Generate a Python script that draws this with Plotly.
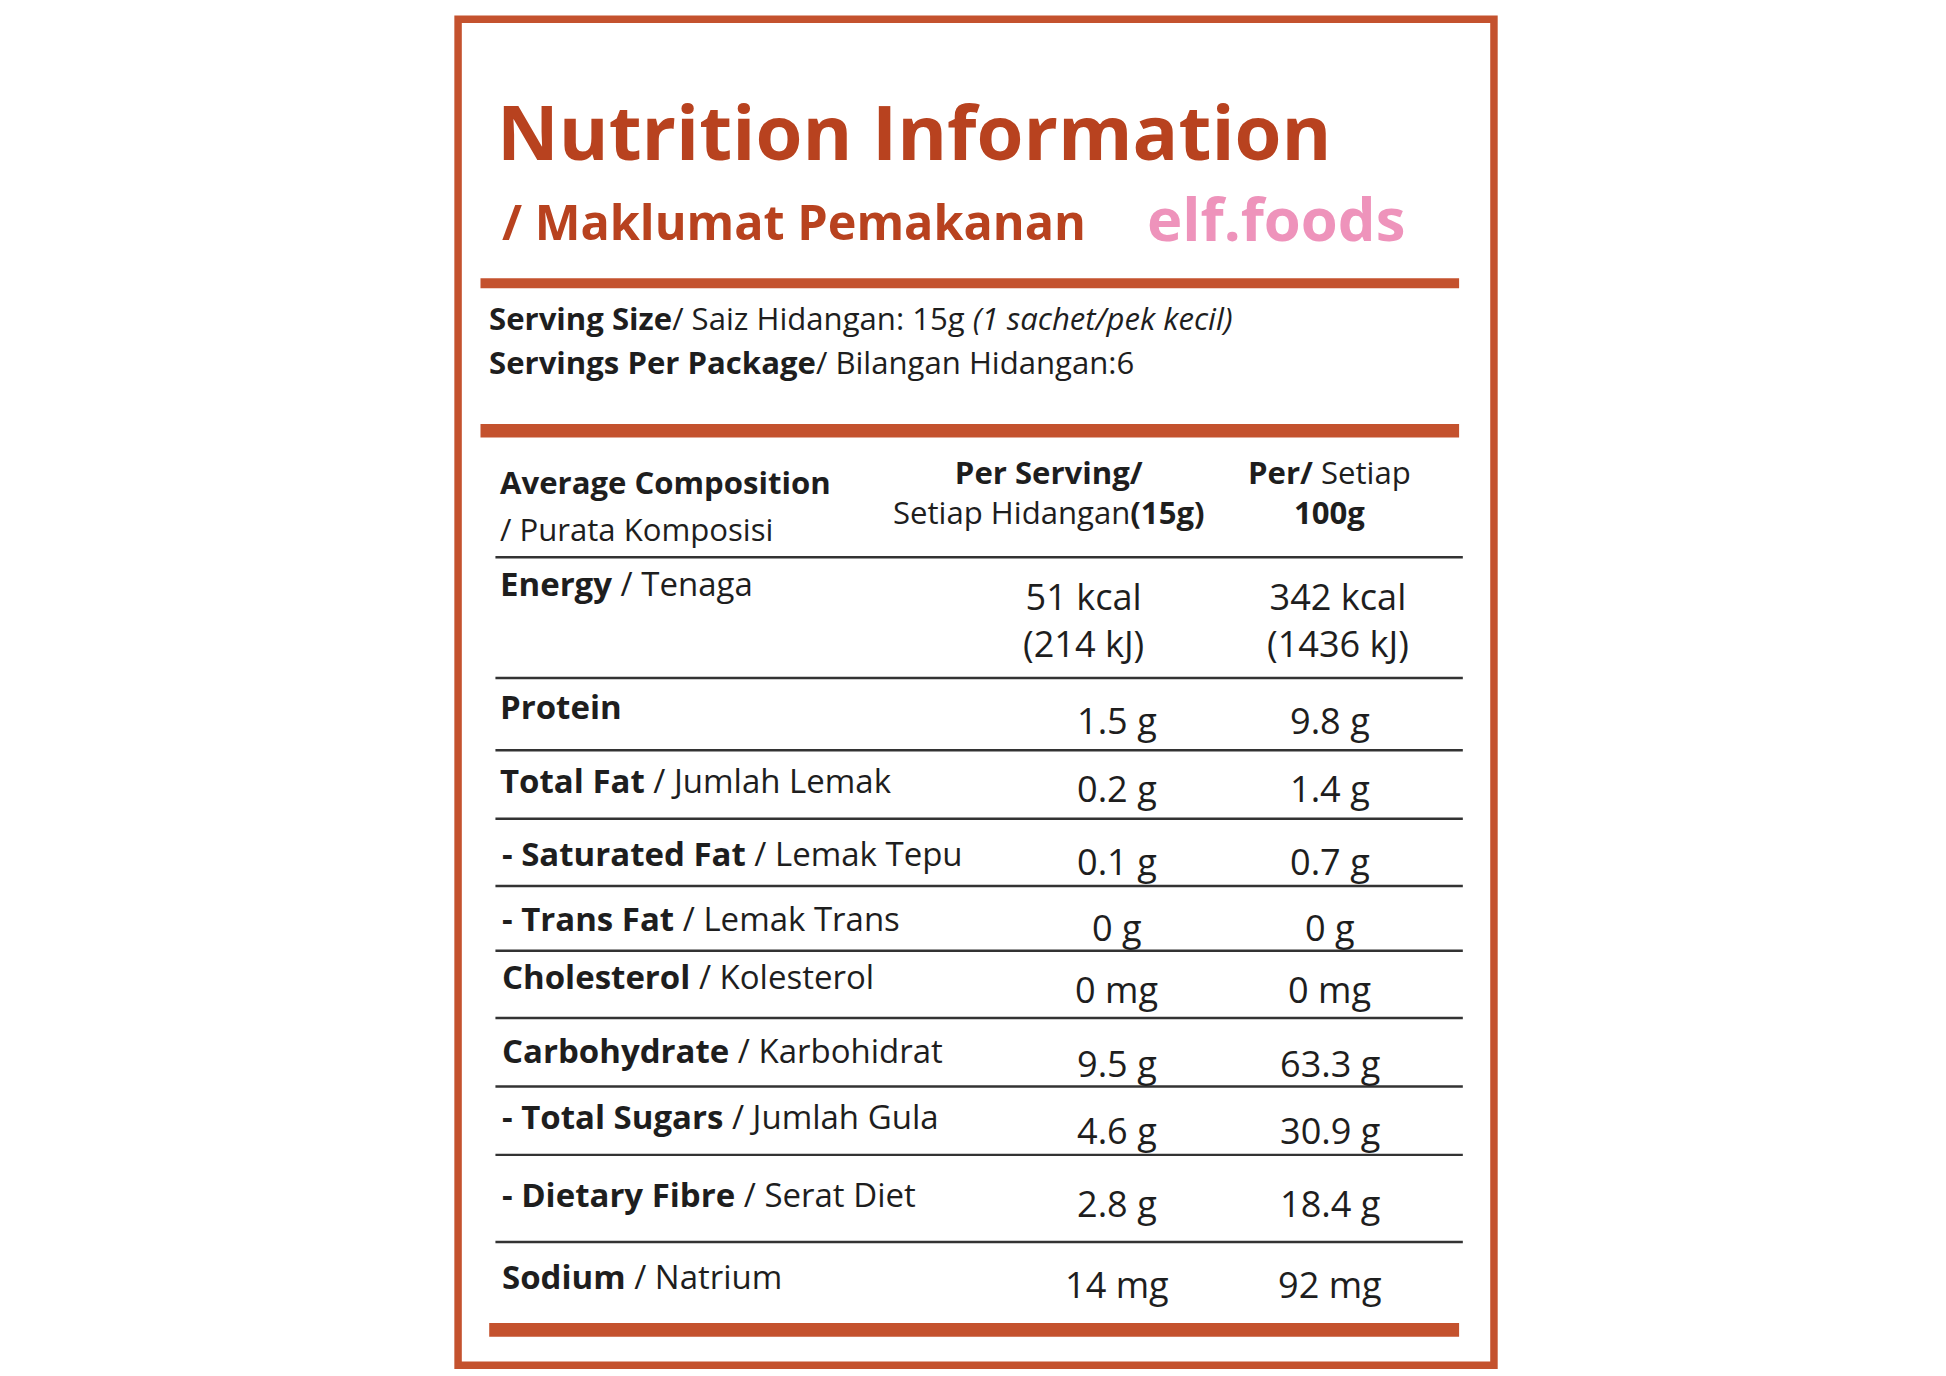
import plotly.graph_objects as go

# label parts (bold, normal) and values per serving / per 100g
bold_parts = ["Energy", "Protein", "Total Fat", "- Saturated Fat", "- Trans Fat",
              "Cholesterol", "Carbohydrate", "- Total Sugars", "- Dietary Fibre", "Sodium"]
normal_parts = [" / Tenaga", "", " / Jumlah Lemak", " / Lemak Tepu", " / Lemak Trans",
                " / Kolesterol", " / Karbohidrat", " / Jumlah Gula", " / Serat Diet", " / Natrium"]
per_serving = ["51 kcal<br>(214 kJ)", "1.5 g", "0.2 g", "0.1 g", "0 g",
               "0 mg", "9.5 g", "4.6 g", "2.8 g", "14 mg"]
per_100g = ["342 kcal<br>(1436 kJ)", "9.8 g", "1.4 g", "0.7 g", "0 g",
            "0 mg", "63.3 g", "30.9 g", "18.4 g", "92 mg"]

label_y = [467, 566, 625, 684, 736, 783, 842, 895, 958, 1024]
value_y = [496, 577, 631, 690, 743, 793, 852, 906, 965, 1030]
rule_y = [446, 543, 601, 656, 710, 762, 816, 871, 926, 996]

RED = "#b8421f"
BORDER = "#c4522e"
TXT = "#1e1e1e"
S = 1946 / 1563  # font scaling from layout units to px
FONT = "Open Sans"

fig = go.Figure()
ann = []


def add(x, y, text, size, color=TXT, anchor="left", yanchor="middle", align="left"):
    ann.append(dict(x=x, y=y, xref="x", yref="y", text=text, showarrow=False,
                    xanchor=anchor, yanchor=yanchor, align=align,
                    font=dict(family=FONT, size=size * S, color=color)))


add(398, 103, "<b>Nutrition Information</b>", 61, RED)
add(402, 176, "<b>/ Maklumat Pemakanan</b>", 39, RED)
add(920, 174, "<b>elf.foods</b>", 48, "#ee93bb")
add(391, 254, "<b>Serving Size</b>/ Saiz Hidangan: 15g <i>(1 sachet/pek kecil)</i>", 25)
add(391, 289, "<b>Servings Per Package</b>/ Bilangan Hidangan:6", 25)
add(400, 386, "<b>Average Composition</b>", 25)
add(400, 423, "/ Purata Komposisi", 25)
add(843, 394, "<b>Per Serving/</b><br>Setiap Hidangan<b>(15g)</b>", 25, anchor="center", align="center")
add(1068, 394, "<b>Per/</b> Setiap<br><b>100g</b>", 25, anchor="center", align="center")

for i in range(len(bold_parts)):
    add(400 if i < 3 else 402, label_y[i], "<b>" + bold_parts[i] + "</b>" + normal_parts[i], 26.5)
    x1 = 870 if i == 0 else 897
    x2 = 1075 if i == 0 else 1068
    add(x1, value_y[i], per_serving[i], 29, anchor="center", align="center")
    add(x2, value_y[i], per_100g[i], 29, anchor="center", align="center")

shapes = [dict(type="rect", x0=368, x1=1200, y0=14, y1=1095, line=dict(color=BORDER, width=6 * S)),
          dict(type="rect", x0=386, x1=1172, y0=222, y1=230, fillcolor=BORDER, line_width=0),
          dict(type="rect", x0=386, x1=1172, y0=339, y1=350, fillcolor=BORDER, line_width=0),
          dict(type="rect", x0=393, x1=1172, y0=1061, y1=1072, fillcolor=BORDER, line_width=0)]
for y in rule_y:
    shapes.append(dict(type="line", x0=398, x1=1175, y0=y, y1=y, line=dict(color="#333333", width=2 * S)))

fig.update_layout(
    width=1946, height=1376, margin=dict(l=0, r=0, t=0, b=0),
    paper_bgcolor="white", plot_bgcolor="white",
    xaxis=dict(range=[6.5, 1569.5], visible=False, fixedrange=True),
    yaxis=dict(range=[1110, 5], visible=False, fixedrange=True),
    annotations=ann, shapes=shapes, showlegend=False,
)
fig.write_html("out.html")
